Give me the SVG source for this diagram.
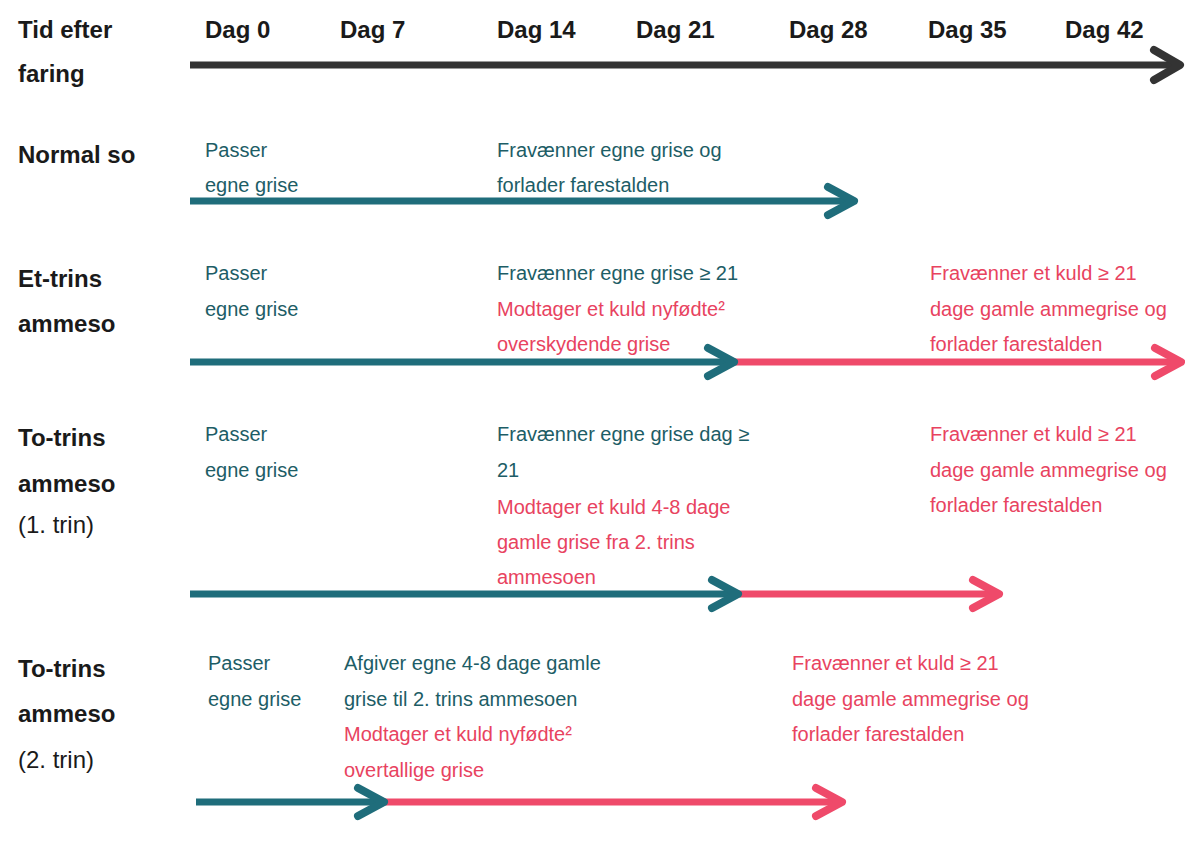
<svg xmlns="http://www.w3.org/2000/svg" width="1185" height="845" viewBox="0 0 1185 845">
<style>
text{font-family:"Liberation Sans",Arial,sans-serif;}
.h{font-size:24px;font-weight:bold;fill:#1a1a1a;}
.hr{font-size:24px;fill:#1a1a1a;}
.t{font-size:20px;fill:#1d5d66;}
.p{font-size:20px;fill:#e8435f;}
.lk{stroke:#333;stroke-width:7;fill:none;}
.lt{stroke:#1f6d7b;stroke-width:7;fill:none;}
.lp{stroke:#ef4a6a;stroke-width:7;fill:none;}
</style>
<defs>
<marker id="ak" markerUnits="userSpaceOnUse" markerWidth="40" markerHeight="40" refX="30" refY="20" orient="auto" overflow="visible">
<path d="M4,5 L30,20 L4,35" fill="none" stroke="#333" stroke-width="8" stroke-linecap="round" stroke-linejoin="round"/>
</marker>
<marker id="at" markerUnits="userSpaceOnUse" markerWidth="40" markerHeight="40" refX="30" refY="20" orient="auto" overflow="visible">
<path d="M4,6 L30,20 L4,34" fill="none" stroke="#1f6d7b" stroke-width="8" stroke-linecap="round" stroke-linejoin="round"/>
</marker>
<marker id="ap" markerUnits="userSpaceOnUse" markerWidth="40" markerHeight="40" refX="30" refY="20" orient="auto" overflow="visible">
<path d="M4,6 L30,20 L4,34" fill="none" stroke="#ef4a6a" stroke-width="8" stroke-linecap="round" stroke-linejoin="round"/>
</marker>
</defs>
<rect width="1185" height="845" fill="#ffffff"/>

<g id="header">
<text class="h" x="18" y="38">Tid efter</text>
<text class="h" x="18" y="82">faring</text>
<text class="h" x="205" y="38">Dag 0</text>
<text class="h" x="340" y="38">Dag 7</text>
<text class="h" x="497" y="38">Dag 14</text>
<text class="h" x="636" y="38">Dag 21</text>
<text class="h" x="789" y="38">Dag 28</text>
<text class="h" x="928" y="38">Dag 35</text>
<text class="h" x="1065" y="38">Dag 42</text>
</g>

<g id="normal-so">
<text class="h" x="18" y="163">Normal so</text>
<text class="t" x="205" y="157">Passer</text>
<text class="t" x="205" y="192">egne grise</text>
<text class="t" x="497" y="157">Fravænner egne grise og</text>
<text class="t" x="497" y="192">forlader farestalden</text>
</g>

<g id="et-trins">
<text class="h" x="18" y="287">Et-trins</text>
<text class="h" x="18" y="332">ammeso</text>
<text class="t" x="205" y="280">Passer</text>
<text class="t" x="205" y="316">egne grise</text>
<text class="t" x="497" y="280">Fravænner egne grise ≥ 21</text>
<text class="p" x="497" y="316">Modtager et kuld nyfødte²</text>
<text class="p" x="497" y="351">overskydende grise</text>
<text class="p" x="930" y="280">Fravænner et kuld ≥ 21</text>
<text class="p" x="930" y="316">dage gamle ammegrise og</text>
<text class="p" x="930" y="351">forlader farestalden</text>
</g>

<g id="to-trins-1">
<text class="h" x="18" y="446">To-trins</text>
<text class="h" x="18" y="492">ammeso</text>
<text class="hr" x="18" y="533">(1. trin)</text>
<text class="t" x="205" y="441">Passer</text>
<text class="t" x="205" y="477">egne grise</text>
<text class="t" x="497" y="441">Fravænner egne grise dag ≥</text>
<text class="t" x="497" y="477">21</text>
<text class="p" x="497" y="514">Modtager et kuld 4-8 dage</text>
<text class="p" x="497" y="549">gamle grise fra 2. trins</text>
<text class="p" x="497" y="584">ammesoen</text>
<text class="p" x="930" y="441">Fravænner et kuld ≥ 21</text>
<text class="p" x="930" y="477">dage gamle ammegrise og</text>
<text class="p" x="930" y="512">forlader farestalden</text>
</g>

<g id="to-trins-2">
<text class="h" x="18" y="677">To-trins</text>
<text class="h" x="18" y="722">ammeso</text>
<text class="hr" x="18" y="768">(2. trin)</text>
<text class="t" x="208" y="670">Passer</text>
<text class="t" x="208" y="706">egne grise</text>
<text class="t" x="344" y="670">Afgiver egne 4-8 dage gamle</text>
<text class="t" x="344" y="706">grise til 2. trins ammesoen</text>
<text class="p" x="344" y="741">Modtager et kuld nyfødte²</text>
<text class="p" x="344" y="777">overtallige grise</text>
<text class="p" x="792" y="670">Fravænner et kuld ≥ 21</text>
<text class="p" x="792" y="706">dage gamle ammegrise og</text>
<text class="p" x="792" y="741">forlader farestalden</text>
</g>

<g id="connectors">
<line class="lk" x1="190" y1="65" x2="1180" y2="65" marker-end="url(#ak)"/>
<line class="lt" x1="190" y1="201" x2="854" y2="201" marker-end="url(#at)"/>
<line class="lp" x1="732" y1="362" x2="1181" y2="362" marker-end="url(#ap)"/>
<line class="lt" x1="190" y1="362" x2="734" y2="362" marker-end="url(#at)"/>
<line class="lp" x1="736" y1="594" x2="999" y2="594" marker-end="url(#ap)"/>
<line class="lt" x1="190" y1="594" x2="738" y2="594" marker-end="url(#at)"/>
<line class="lp" x1="382" y1="802" x2="842" y2="802" marker-end="url(#ap)"/>
<line class="lt" x1="196" y1="802" x2="384" y2="802" marker-end="url(#at)"/>
</g>
</svg>
